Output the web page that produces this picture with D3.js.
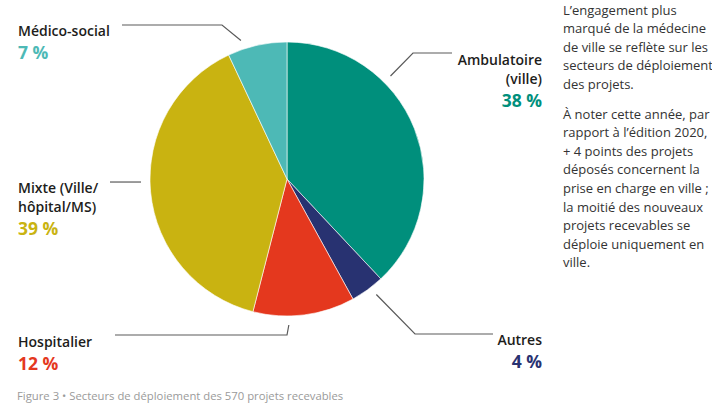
<!DOCTYPE html>
<html>
<head>
<meta charset="utf-8">
<script src="https://cdn.jsdelivr.net/npm/d3@7"></script>
<style>
  body { margin: 0; background: #fff; }
  svg { display: block; }
  .lbl { font-family: "Open Sans", sans-serif; font-size: 14px; font-weight: 600; fill: #1d1d1b; }
  .pct { font-family: "Open Sans", sans-serif; font-size: 17.5px; font-weight: 700; }
  .note { font-family: "Open Sans", sans-serif; font-size: 13px; fill: #333; }
  .caption { font-family: "Open Sans", sans-serif; font-size: 11.3px; fill: #9a9a9a; }
</style>
</head>
<body>
<script>
// Secteurs de déploiement des 570 projets recevables

var categories = ["Ambulatoire (ville)", "Autres", "Hospitalier", "Mixte (Ville/hôpital/MS)", "Médico-social"];
var values = [38, 4, 12, 39, 7];
var colors = ["#008f7c", "#283271", "#e4381e", "#c9b311", "#4db9b6"];

var noteText = [
    ["L’engagement plus", "marqué de la médecine", "de ville se reflète sur les", "secteurs de déploiement", "des projets."],
    ["À noter cette année, par", "rapport à l’édition 2020,", "+ 4 points des projets", "déposés concernent la",
     "prise en charge en ville ;", "la moitié des nouveaux", "projets recevables se", "déploie uniquement en", "ville."]
];
var captionText = "Figure 3 • Secteurs de déploiement des 570 projets recevables";

var width = 712, height = 403;
var cx = 287, cy = 179, radius = 137;

// label layout: text lines, anchor, leader (position within slice, elbow, end)
var labelLayout = [
    {lines: ["Ambulatoire", "(ville)"], x: 542, y: 65, anchor: "end", t: 0.33, elbow: [413, 53], endX: 452},
    {lines: ["Autres"], x: 542, y: 345, anchor: "end", t: 0.38, elbow: [415, 334], endX: 493},
    {lines: ["Hospitalier"], x: 18, y: 347, anchor: "start", t: 0.65, elbow: [287, 335], endX: 115},
    {lines: ["Mixte (Ville/", "hôpital/MS)"], x: 18, y: 193, anchor: "start", t: 0.53, elbow: null, endX: 110},
    {lines: ["Médico-social"], x: 18, y: 36, anchor: "start", t: 0.27, elbow: [222, 25], endX: 122}
];

var svg = d3.select("body").append("svg")
    .attr("width", width)
    .attr("height", height);

var pie = d3.pie().sort(null).value(function(d) { return d; });
var arcs = pie(values);

var arc = d3.arc().innerRadius(0).outerRadius(radius);

var g = svg.append("g")
    .attr("transform", "translate(" + cx + "," + cy + ")");

g.selectAll(".slice")
    .data(arcs)
    .enter().append("path")
    .attr("class", "slice")
    .attr("d", arc)
    .attr("fill", function(d, i) { return colors[i]; })
    .attr("stroke", "#fff")
    .attr("stroke-width", 0.6);

// leader lines
var leaderR = radius + 9;
arcs.forEach(function(d, i) {
    var L = labelLayout[i];
    var a = d.startAngle + (d.endAngle - d.startAngle) * L.t;
    var sx = cx + leaderR * Math.sin(a);
    var sy = cy - leaderR * Math.cos(a);
    var pts = [[sx, sy]];
    if (L.elbow) {
        pts.push(L.elbow);
        pts.push([L.endX, L.elbow[1]]);
    } else {
        pts.push([L.endX, sy]);
    }
    svg.append("path")
        .attr("d", d3.line()(pts))
        .attr("fill", "none")
        .attr("stroke", "#5a5a5a")
        .attr("stroke-width", 1.2);

    // labels
    L.lines.forEach(function(line, j) {
        svg.append("text")
            .attr("class", "lbl")
            .attr("x", L.x)
            .attr("y", L.y + j * 19)
            .attr("text-anchor", L.anchor)
            .text(line);
    });
    svg.append("text")
        .attr("class", "pct")
        .attr("x", L.x)
        .attr("y", L.y + (L.lines.length - 1) * 19 + 23)
        .attr("text-anchor", L.anchor)
        .attr("fill", colors[i])
        .text(values[i] + " %");
});

// side note
var lineH = 18.6;
var y0 = 14.5;
noteText.forEach(function(par, p) {
    par.forEach(function(line, j) {
        svg.append("text")
            .attr("class", "note")
            .attr("x", 563)
            .attr("y", y0 + j * lineH)
            .text(line);
    });
    y0 += par.length * lineH + 11;
});

svg.append("text")
    .attr("class", "caption")
    .attr("x", 17)
    .attr("y", 400)
    .text(captionText);
</script>
</body>
</html>
